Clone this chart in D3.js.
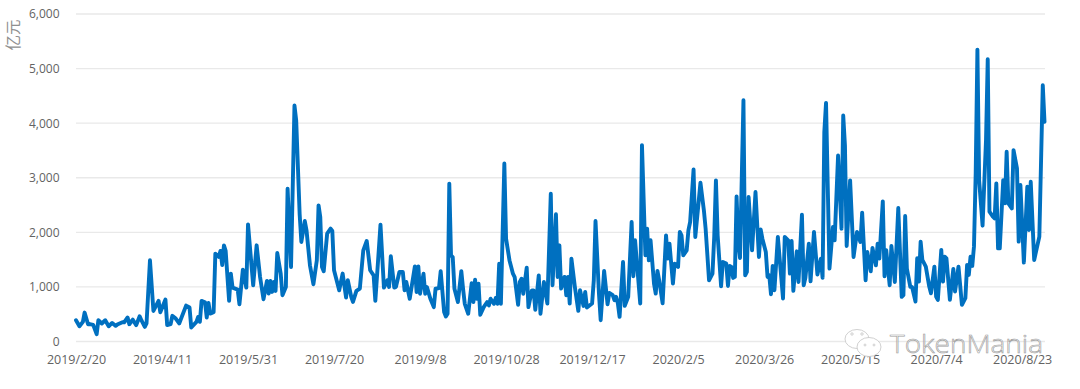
<!DOCTYPE html>
<html>
<head>
<meta charset="utf-8">
<script src="https://cdn.jsdelivr.net/npm/d3@7"></script>
<style>
  html, body { margin: 0; padding: 0; background: #fff; }
  svg { display: block; }
  text { font-family: "Open Sans", sans-serif; }
</style>
</head>
<body>
<div id="chart"></div>
<script>
/*********************************
   DATA
 *********************************/

// One label every 50 days, starting from 2019/2/20
const tickLabels = ["2019/2/20", "2019/4/11", "2019/5/31", "2019/7/20", "2019/9/8", "2019/10/28",
  "2019/12/17", "2020/2/5", "2020/3/26", "2020/5/15", "2020/7/4", "2020/8/23"];
const yTicks = [0, 1000, 2000, 3000, 4000, 5000, 6000];

// Days since 2019/2/20 of each visible turning point of the line
const sampleDays = [
  0, 2, 4, 5, 7, 8, 10, 12, 13, 15,
  17, 19, 21, 23, 24, 27, 28, 30, 31, 33,
  35, 37, 38, 40, 41, 43, 45, 48, 49, 52,
  53, 55, 56, 58, 60, 64, 66, 67, 70, 71,
  72, 73, 75, 76, 77, 78, 80, 81, 83, 84,
  85, 86, 87, 89, 90, 91, 94, 95, 97, 99,
  100, 103, 105, 107, 109, 111, 112, 113, 114, 115,
  116, 117, 119, 120, 122, 123, 125, 127, 128, 130,
  131, 133, 134, 136, 138, 140, 141, 142, 143, 144,
  146, 148, 149, 150, 153, 155, 157, 158, 160, 161,
  163, 165, 167, 169, 171, 173, 174, 176, 177, 179,
  181, 182, 183, 185, 186, 188, 189, 190, 191, 192,
  194, 197, 198, 199, 200, 202, 203, 204, 206, 208,
  209, 211, 212, 214, 215, 216, 217, 218, 219, 220,
  222, 224, 225, 226, 228, 230, 231, 232, 233, 234,
  235, 237, 239, 240, 241, 243, 244, 245, 246, 247,
  249, 250, 252, 254, 255, 257, 258, 259, 260, 262,
  263, 265, 266, 267, 269, 270, 272, 274, 276, 277,
  279, 280, 281, 282, 284, 285, 286, 287, 288, 290,
  292, 293, 295, 296, 297, 300, 301, 302, 304, 305,
  307, 309, 310, 312, 313, 314, 315, 316, 318, 319,
  321, 323, 324, 325, 328, 329, 331, 332, 333, 334,
  336, 337, 338, 339, 341, 343, 344, 345, 347, 348,
  350, 351, 352, 353, 355, 356, 357, 359, 360, 363,
  365, 366, 368, 370, 371, 372, 373, 375, 376, 378,
  379, 380, 381, 382, 383, 384, 385, 386, 388, 389,
  390, 391, 393, 395, 397, 398, 399, 401, 402, 403,
  404, 405, 406, 408, 411, 412, 414, 415, 416, 417,
  419, 420, 422, 423, 424, 426, 427, 429, 431, 433,
  434, 435, 436, 438, 440, 441, 443, 445, 446, 447,
  448, 450, 452, 454, 456, 457, 459, 460, 462, 463,
  465, 466, 467, 469, 470, 471, 473, 474, 476, 478,
  480, 481, 482, 483, 485, 486, 488, 489, 490, 491,
  492, 494, 496, 497, 499, 500, 501, 503, 504, 505,
  506, 508, 510, 511, 513, 515, 517, 518, 519, 520,
  521, 522, 523, 524, 525, 527, 529, 530, 531, 533,
  534, 535, 536, 537, 539, 540, 541, 542, 544, 545,
  547, 548, 549, 551, 553, 554, 555, 557, 560, 562,
  563
];

// Trading volume (亿元) at each of those days
const volumes = [
  390, 280, 360, 530, 317, 320, 305, 134, 390, 330,
  390, 280, 340, 287, 310, 354, 350, 440, 317, 400,
  300, 463, 390, 268, 330, 1488, 560, 744, 536, 768,
  300, 317, 470, 420, 330, 658, 622, 256, 360, 450,
  360, 744, 720, 440, 707, 512, 536, 1610, 1550, 1660,
  1400, 1760, 1660, 744, 1244, 988, 950, 683, 1317, 988,
  2146, 1030, 1762, 1183, 774, 1110, 878, 1110, 908, 1090,
  927, 1622, 1244, 848, 1000, 2800, 1366, 4323, 4050, 2340,
  1823, 2207, 2037, 1396, 1049, 1488, 2494, 2280, 1366, 1287,
  1976, 2067, 2024, 1305, 939, 1244, 805, 1122, 817, 726,
  927, 970, 1670, 1841, 1305, 1213, 744, 1670, 2140, 988,
  1122, 1000, 1561, 988, 1000, 1274, 1272, 1272, 936, 1090,
  783, 1376, 905, 1376, 875, 1242, 875, 997, 783, 630,
  966, 979, 1290, 538, 459, 508, 2893, 1578, 1547, 966,
  722, 1290, 966, 691, 508, 1070, 722, 1131, 783, 1058,
  489, 630, 722, 660, 783, 691, 795, 691, 1425, 691,
  3260, 1884, 1486, 1242, 1180, 673, 1090, 1150, 875, 1352,
  630, 936, 936, 581, 1211, 508, 1091, 695, 2707, 1030,
  2330, 1183, 1762, 970, 1183, 848, 1183, 695, 1518, 1000,
  561, 939, 652, 908, 622, 695, 1122, 2207, 878, 390,
  1293, 683, 890, 848, 756, 817, 695, 451, 1457, 652,
  817, 2190, 1195, 1854, 695, 3598, 1580, 2067, 1488, 1854,
  1061, 878, 1293, 1122, 700, 1945, 1518, 1793, 1061, 1427,
  1366, 2006, 1945, 1579, 1671, 2037, 2189, 3152, 1915, 2908,
  2402, 2067, 1122, 1244, 1915, 2951, 1945, 1012, 1457, 1427,
  1018, 1384, 1366, 1165, 1183, 2658, 1823, 1530, 4420, 1213,
  1274, 2646, 1671, 2738, 1549, 2055, 1884, 1640, 1183, 1213,
  866, 1384, 939, 1915, 787, 1915, 1854, 1244, 1841, 927,
  1652, 1091, 2323, 1030, 1165, 1793, 1103, 2006, 1225, 1518,
  1165, 3835, 4372, 1335, 2097, 1854, 3408, 2067, 4140, 3591,
  1750, 2951, 1549, 2006, 1823, 2360, 1122, 1640, 1287, 1713,
  1396, 1793, 1518, 2567, 1195, 1671, 1030, 1750, 1091, 2445,
  817, 848, 2299, 1335, 1000, 1000, 732, 1524, 1098, 1829,
  1494, 1372, 1006, 884, 1372, 823, 762, 1677, 1098, 1555,
  1524, 762, 1329, 915, 1372, 671, 793, 1402, 1220, 1555,
  1384, 1738, 3079, 5348, 2957, 2122, 3689, 5171, 2378, 2287,
  2256, 2896, 1707, 1707, 2957, 2530, 3476, 2530, 2439, 3506,
  3171, 1829, 2866, 1445, 2835, 2043, 2927, 1494, 1920, 4695,
  4024
];

/*********************************
   DRAW CHART
 *********************************/

// Initialise Dimensions
let w = 1080, h = 389;
let xLeft = 76, xRight = 1044.5, yTop = 14, yBottom = 341.5;

// Render SVG On DOM
let svg = d3.select("#chart").append("svg").attr("width", w).attr("height", h);

// Initialise Scales
let xScale = d3.scaleLinear().domain([0, 563]).range([xLeft, xRight]);
let yScale = d3.scaleLinear().domain([0, 6000]).range([yBottom, yTop]);

// Draw Gridlines
svg.append("g").selectAll("line").data(yTicks).join("line")
  .attr("x1", xLeft).attr("x2", xRight + 0.5)
  .attr("y1", (d) => yScale(d)).attr("y2", (d) => yScale(d))
  .attr("stroke", "#e9e9e9").attr("stroke-width", 1.4);

// Draw Axes (Labels Only)
let xAxis = d3.axisBottom(xScale)
  .tickValues(tickLabels.map((d, i) => i * 50))
  .tickFormat((d) => tickLabels[d / 50])
  .tickSize(0).tickPadding(0);
let yAxis = d3.axisLeft(yScale)
  .tickValues(yTicks).tickFormat(d3.format(","))
  .tickSize(0).tickPadding(0);

let gx = svg.append("g").attr("transform", "translate(0, 355)").call(xAxis);
let gy = svg.append("g").attr("transform", "translate(59.5, 0)").call(yAxis);
gx.select(".domain").remove();
gy.select(".domain").remove();
gx.selectAll("text").attr("font-size", 12.5).attr("fill", "#636363").attr("font-family", "'Open Sans'");
gy.selectAll("text").attr("font-size", 12).attr("fill", "#636363").attr("font-family", "'Open Sans'");

// Y Axis Unit
svg.append("text").text("亿元")
  .attr("transform", "translate(19, 35) rotate(-90)")
  .attr("text-anchor", "middle")
  .attr("font-size", 15.5).attr("fill", "#8f8f8f")
  .style("font-family", "'Noto Sans CJK SC'");

// Draw Line
let line = d3.line().x((d) => xScale(d)).y((d, i) => yScale(volumes[i]));
svg.append("path").datum(sampleDays).attr("d", line)
  .attr("fill", "none").attr("stroke", "#0070c0")
  .attr("stroke-width", 3.9).attr("stroke-linejoin", "round").attr("stroke-linecap", "round");

// Watermark Logo
let logo = svg.append("g").attr("fill", "#fff").attr("stroke", "#c4c4c4").attr("stroke-width", 0.8);
logo.append("ellipse").attr("cx", 857).attr("cy", 339).attr("rx", 12).attr("ry", 9.5);
logo.append("ellipse").attr("cx", 869).attr("cy", 347).attr("rx", 12).attr("ry", 9.5);
logo.append("circle").attr("cx", 852).attr("cy", 334).attr("r", 1.2);
logo.append("circle").attr("cx", 862).attr("cy", 334).attr("r", 1.2);
logo.append("circle").attr("cx", 865).attr("cy", 345).attr("r", 1);
logo.append("circle").attr("cx", 874).attr("cy", 345).attr("r", 1);

// Watermark Text
svg.append("text").text("TokenMania")
  .attr("x", 890).attr("y", 353)
  .attr("textLength", 153).attr("lengthAdjust", "spacingAndGlyphs")
  .attr("font-size", 26).attr("fill", "#fff").attr("fill-opacity", 0.55)
  .attr("stroke", "#9a9a9a").attr("stroke-width", 0.6)
  .style("font-family", "'Open Sans'").style("font-weight", 300);
</script>
</body>
</html>
